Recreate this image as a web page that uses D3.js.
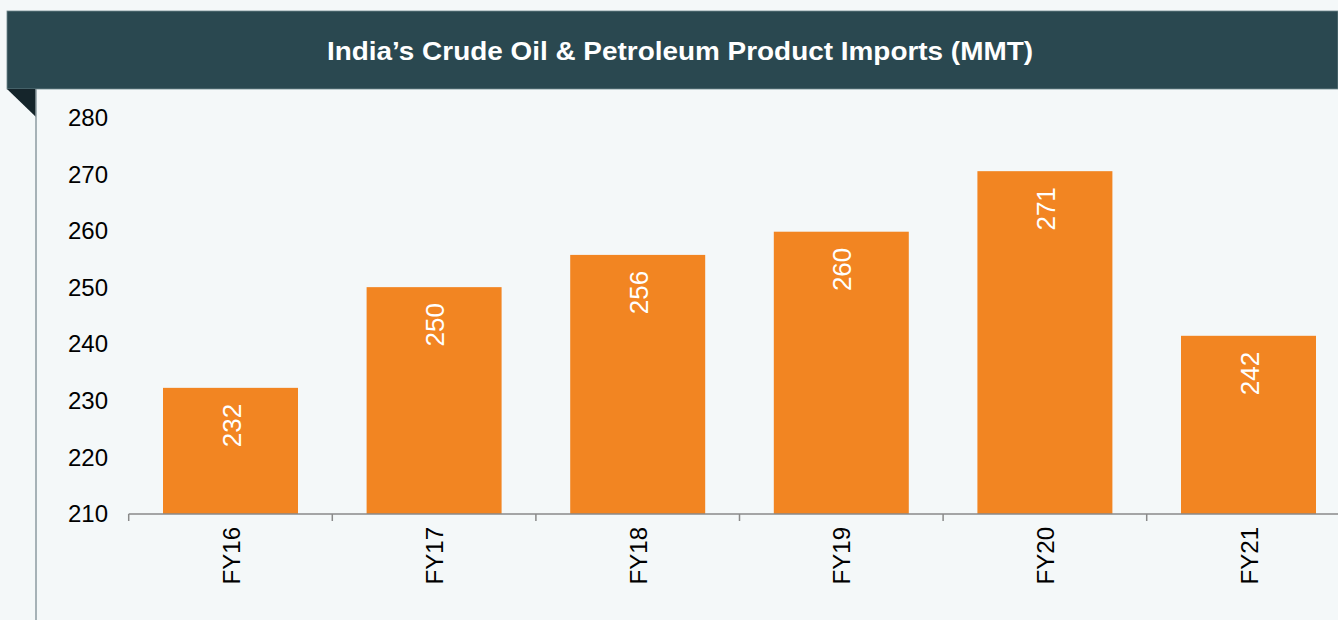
<!DOCTYPE html>
<html>
<head>
<meta charset="utf-8">
<script src="https://cdn.jsdelivr.net/npm/d3@7"></script>
<style>
  html, body { margin: 0; padding: 0; background: #f4f8f9; }
  svg { display: block; font-family: Arial, "Liberation Sans", sans-serif; }
</style>
</head>
<body>
<div id="chart"></div>
<script>
// chart data
const categories = ['FY16', 'FY17', 'FY18', 'FY19', 'FY20', 'FY21'];
const imports = [232.3, 250.1, 255.8, 259.9, 270.6, 241.5];
const valueLabels = ['232', '250', '256', '260', '271', '242'];
const yTicks = [210, 220, 230, 240, 250, 260, 270, 280];
const title = 'India\u2019s Crude Oil & Petroleum Product Imports (MMT)';

const width = 1338;
const height = 620;

const svg = d3.select('#chart')
  .append('svg')
  .attr('width', width)
  .attr('height', height);

svg.append('rect')
  .attr('width', width)
  .attr('height', height)
  .attr('fill', '#f4f8f9');

// header band
svg.append('rect')
  .attr('x', 7)
  .attr('y', 11)
  .attr('width', width - 7)
  .attr('height', 78)
  .attr('fill', '#2a4850')
  .attr('stroke', '#6f878d')
  .attr('stroke-width', 0.8);

// folded corner under the header
svg.append('path')
  .attr('d', 'M7,89 L36,89 L36,117 Z')
  .attr('fill', '#15252b');

// left rule
svg.append('line')
  .attr('x1', 36).attr('x2', 36)
  .attr('y1', 89).attr('y2', height)
  .attr('stroke', '#8c9ba0')
  .attr('stroke-width', 1.5);

svg.append('text')
  .attr('x', 680)
  .attr('y', 60)
  .attr('text-anchor', 'middle')
  .attr('fill', '#ffffff')
  .attr('font-size', 26)
  .attr('font-weight', 'bold')
  .attr('textLength', 706)
  .attr('lengthAdjust', 'spacingAndGlyphs')
  .text(title);

// scales
const x = d3.scaleBand()
  .domain(categories)
  .range([128.7, 128.7 + 6 * 203.6])
  .paddingInner(0.337)
  .paddingOuter(0.1685);

const y = d3.scaleLinear()
  .domain([210, 280])
  .range([514, 118]);

// y axis (labels only)
const yAxis = svg.append('g')
  .attr('transform', 'translate(108,0)')
  .call(d3.axisLeft(y).tickValues(yTicks).tickSize(0).tickPadding(0));
yAxis.select('.domain').remove();
yAxis.selectAll('text')
  .attr('font-size', 24)
  .attr('font-family', 'Arial, "Liberation Sans", sans-serif')
  .attr('fill', '#000');

// bars
svg.append('g')
  .selectAll('rect')
  .data(imports)
  .enter()
  .append('rect')
  .attr('x', (d, i) => x(categories[i]))
  .attr('y', d => y(d))
  .attr('width', x.bandwidth())
  .attr('height', d => y(210) - y(d))
  .attr('fill', '#f28522');

// value labels inside bars
svg.append('g')
  .selectAll('text')
  .data(imports)
  .enter()
  .append('text')
  .attr('transform', (d, i) =>
    `translate(${x(categories[i]) + x.bandwidth() / 2 + 10},${y(d) + 16}) rotate(-90)`)
  .attr('text-anchor', 'end')
  .attr('fill', '#ffffff')
  .attr('font-size', 26)
  .text((d, i) => valueLabels[i]);

// x axis
const xAxis = svg.append('g')
  .attr('transform', 'translate(0,514)')
  .call(d3.axisBottom(x).tickSize(0).tickFormat(''));
xAxis.select('.domain')
  .attr('d', `M${x.range()[0]},0H${x.range()[1]}`)
  .attr('stroke', '#8a8a8a')
  .attr('stroke-width', 1.5);

// tick marks between categories
const boundaries = d3.range(categories.length + 1).map(i => x.range()[0] + i * x.step());
xAxis.selectAll('.sep')
  .data(boundaries)
  .enter()
  .append('line')
  .attr('class', 'sep')
  .attr('x1', d => d).attr('x2', d => d)
  .attr('y1', 0).attr('y2', 7)
  .attr('stroke', '#8a8a8a')
  .attr('stroke-width', 1.5);

// category labels, rotated
svg.append('g')
  .selectAll('text')
  .data(categories)
  .enter()
  .append('text')
  .attr('transform', d => `translate(${x(d) + x.bandwidth() / 2 + 9},527) rotate(-90)`)
  .attr('text-anchor', 'end')
  .attr('fill', '#000')
  .attr('font-size', 24)
  .text(d => d);
</script>
</body>
</html>
